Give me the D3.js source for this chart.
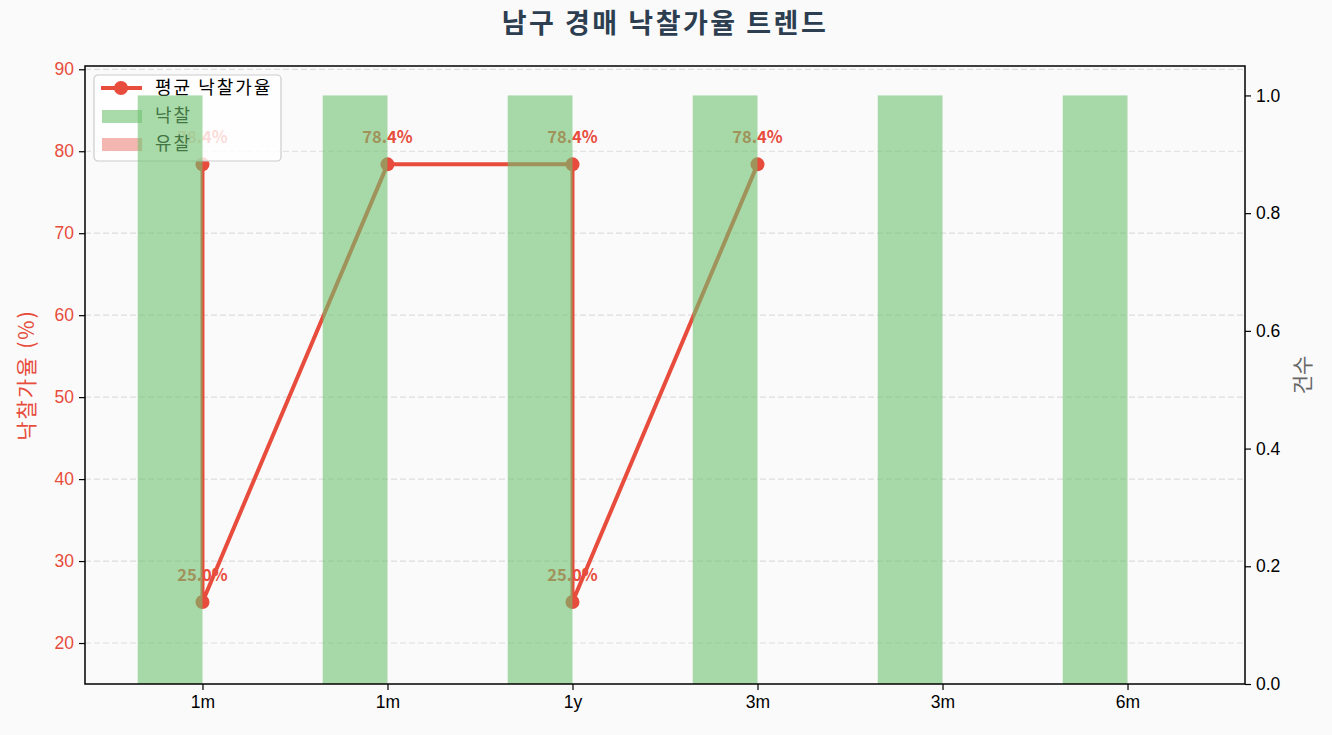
<!DOCTYPE html>
<html>
<head>
<meta charset="utf-8">
<script src="https://cdn.jsdelivr.net/npm/d3@7"></script>
<style>
  html, body { margin: 0; padding: 0; background: #fafafa; }
  svg { display: block; font-family: "Noto Sans CJK KR", "Noto Sans", sans-serif; }
</style>
</head>
<body>
<svg id="chart" width="1332" height="735"></svg>
<script>
// data
var periods = ["1m", "1m", "1y", "3m", "3m", "6m"];
var wonCounts = [1, 1, 1, 1, 1, 1];     // 낙찰
var failCounts = [0, 0, 0, 0, 0, 0];    // 유찰
var avgRates = [78.4, 25.0, 78.4, 78.4, 25.0, 78.4];
var rateTicks = [20, 30, 40, 50, 60, 70, 80, 90];
var countTicks = [0, 0.2, 0.4, 0.6, 0.8, 1.0];

var red = "#e74c3c",
    barW = 0.35;

var svg = d3.select("#chart"),
    margin = {top: 66, right: 87, bottom: 51, left: 85},
    width = +svg.attr("width") - margin.left - margin.right,
    height = +svg.attr("height") - margin.top - margin.bottom;

var x = d3.scaleLinear().domain([-0.635, periods.length - 1 + 0.635]).range([0, width]),
    y = d3.scaleLinear().domain([15, 90.4]).range([height, 0]),
    y2 = d3.scaleLinear().domain([0, 1.05]).range([height, 0]);

// the rate line was plotted against the period strings, so repeated periods share a slot
var uniq = Array.from(new Set(periods));
var pts = avgRates.map(function(r, i) { return {x: uniq.indexOf(periods[i]), y: r}; });

var g = svg.append("g")
    .attr("transform", "translate(" + margin.left + "," + margin.top + ")");

// grid
g.append("g").selectAll("line")
    .data(rateTicks)
    .enter().append("line")
    .attr("x1", 0).attr("x2", width)
    .attr("y1", function(d) { return y(d); })
    .attr("y2", function(d) { return y(d); })
    .attr("stroke", "#dddddd")
    .attr("stroke-width", 1.2)
    .attr("stroke-dasharray", "6,3");

// rate line
g.append("path")
    .datum(pts)
    .attr("fill", "none")
    .attr("stroke", red)
    .attr("stroke-width", 4)
    .attr("stroke-linejoin", "round")
    .attr("d", d3.line().x(function(d) { return x(d.x); }).y(function(d) { return y(d.y); }));

g.selectAll(".dot")
    .data(pts)
    .enter().append("circle")
    .attr("class", "dot")
    .attr("cx", function(d) { return x(d.x); })
    .attr("cy", function(d) { return y(d.y); })
    .attr("r", 7)
    .attr("fill", red);

g.selectAll(".lbl")
    .data(pts)
    .enter().append("text")
    .attr("class", "lbl")
    .attr("x", function(d) { return x(d.x); })
    .attr("y", function(d) { return y(d.y) - 21; })
    .attr("text-anchor", "middle")
    .attr("fill", red)
    .style("font-size", "16.5px")
    .style("font-weight", "bold")
    .text(function(d) { return d.y.toFixed(1) + "%"; });

// legend (sits under the count bars)
var lg = g.append("g").attr("transform", "translate(9,9)");
lg.append("rect")
    .attr("width", 187).attr("height", 86)
    .attr("rx", 4)
    .attr("fill", "#ffffff").attr("fill-opacity", 0.8)
    .attr("stroke", "#cccccc").attr("stroke-width", 1.2);
lg.append("line")
    .attr("x1", 7).attr("x2", 48).attr("y1", 13).attr("y2", 13)
    .attr("stroke", red).attr("stroke-width", 4);
lg.append("circle").attr("cx", 27).attr("cy", 13).attr("r", 7).attr("fill", red);
lg.append("rect").attr("x", 8).attr("y", 35).attr("width", 40).attr("height", 13)
    .attr("fill", "#70c170").attr("fill-opacity", 0.6);
lg.append("rect").attr("x", 8).attr("y", 63).attr("width", 40).attr("height", 13)
    .attr("fill", red).attr("fill-opacity", 0.4);
lg.selectAll(".lt")
    .data(["평균 낙찰가율", "낙찰", "유찰"])
    .enter().append("text")
    .attr("x", 61)
    .attr("y", function(d, i) { return 13 + i * 28; })
    .attr("dy", "0.35em")
    .attr("fill", "#000")
    .style("font-size", "18px")
    .style("letter-spacing", "2px")
    .text(function(d) { return d; });

// count bars on the twin axis, drawn on top
g.selectAll(".won")
    .data(wonCounts)
    .enter().append("rect")
    .attr("class", "won")
    .attr("x", function(d, i) { return x(i - barW); })
    .attr("width", x(barW) - x(0))
    .attr("y", function(d) { return y2(d); })
    .attr("height", function(d) { return height - y2(d); })
    .attr("fill", "#70c170")
    .attr("fill-opacity", 0.6);

g.selectAll(".fail")
    .data(failCounts)
    .enter().append("rect")
    .attr("class", "fail")
    .attr("x", function(d, i) { return x(i); })
    .attr("width", x(barW) - x(0))
    .attr("y", function(d) { return y2(d); })
    .attr("height", function(d) { return height - y2(d); })
    .attr("fill", red)
    .attr("fill-opacity", 0.4);

// axes
var xAxis = g.append("g")
    .attr("transform", "translate(0," + height + ")")
    .call(d3.axisBottom(x).tickValues(d3.range(periods.length))
      .tickFormat(function(i) { return periods[i]; }).tickSize(6).tickPadding(6));

var yAxis = g.append("g")
    .call(d3.axisLeft(y).tickValues(rateTicks).tickSize(6).tickPadding(5));

var y2Axis = g.append("g")
    .attr("transform", "translate(" + width + ",0)")
    .call(d3.axisRight(y2).tickValues(countTicks).tickFormat(d3.format(".1f")).tickSize(6).tickPadding(5));

[xAxis, yAxis, y2Axis].forEach(function(a) {
  a.select(".domain").remove();
  a.selectAll("line").attr("stroke", "#000").attr("stroke-width", 1.2);
  a.selectAll("text").style("font-size", "17.5px").attr("fill", "#000");
});
yAxis.selectAll("text").attr("fill", red);

g.append("rect")
    .attr("width", width).attr("height", height)
    .attr("fill", "none").attr("stroke", "#000").attr("stroke-width", 1.5);

// labels
svg.append("text")
    .attr("x", margin.left + width / 2).attr("y", 24)
    .attr("dy", "0.35em")
    .attr("text-anchor", "middle")
    .attr("fill", "#2c3e50")
    .style("font-size", "27px")
    .style("font-weight", "bold")
    .style("letter-spacing", "2.5px")
    .text("남구 경매 낙찰가율 트렌드");

svg.append("text")
    .attr("transform", "translate(27," + (margin.top + height / 2) + ") rotate(-90)")
    .attr("text-anchor", "middle")
    .attr("dy", "0.35em")
    .attr("fill", red)
    .style("font-size", "21px")
    .style("letter-spacing", "2px")
    .text("낙찰가율 (%)");

svg.append("text")
    .attr("transform", "translate(1303," + (margin.top + height / 2) + ") rotate(-90)")
    .attr("text-anchor", "middle")
    .attr("dy", "0.35em")
    .attr("fill", "#666")
    .style("font-size", "21px")
    .text("건수");
</script>
</body>
</html>
